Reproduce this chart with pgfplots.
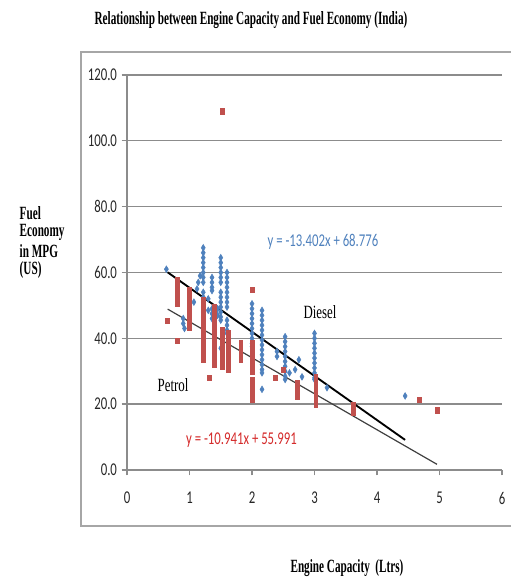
\documentclass[border=0pt]{standalone}
\usepackage{pgfplots}
\pgfplotsset{compat=1.18}
\usepackage{fontspec}
\setmainfont{Liberation Serif}
\newfontfamily\calib[FakeStretch=0.71]{Carlito}
\newfontfamily\narrow[FakeStretch=0.6]{Liberation Serif}
\newfontfamily\narrowreg[FakeStretch=0.69]{Liberation Serif}
\definecolor{dieselblue}{HTML}{4F81BD}
\definecolor{petrolred}{HTML}{C0504D}
\definecolor{eqred}{HTML}{D42A2A}
\definecolor{gridgray}{HTML}{8C8C8C}
\definecolor{framegray}{HTML}{A6A6A6}

\begin{document}
\begin{tikzpicture}
\useasboundingbox (0pt,0pt) rectangle (382.5pt,432.75pt);

\begin{axis}[
    at={(95.25pt,80.25pt)}, anchor=south west,
    scale only axis,
    width=281.25pt, height=296.25pt,
    xmin=0, xmax=6, ymin=0, ymax=120,
    axis x line=bottom, axis y line=left,
    axis line style={-, draw=gridgray, line width=1pt},
    xtick={0,1,2,3,4,5,6},
    ytick={0,20,40,60,80,100,120},
    yticklabel={\pgfmathprintnumber[fixed,fixed zerofill,precision=1]{\tick}},
    xticklabel style={yshift=-9pt},
    tick label style={font=\calib\fontsize{13.5}{15}\selectfont, text=black!85},
    /pgf/number format/assume math mode=true,
    tick align=outside, major tick length=4pt,
    tick style={draw=gridgray, line width=1pt},
    ymajorgrids,
    grid style={draw=gridgray, line width=1pt},
]
% Diesel
\addplot[only marks, mark=diamond*, mark size=2pt, color=dieselblue, mark options={yscale=1.25}] coordinates {
(0.63,61.0)
(0.90,46.0) (0.90,44.5) (0.92,43.0)
(1.07,51.0)
(1.12,55.0) (1.14,57.0) (1.17,59.0)
(1.22,67.5) (1.22,66.0) (1.22,64.5) (1.22,63.0) (1.22,61.5) (1.22,60.0) (1.22,58.5) (1.22,57.0)
(1.22,54.0) (1.22,52.5) (1.22,51.0) (1.22,49.5) (1.22,48.0) (1.22,46.5)
(1.30,52.0) (1.30,48.5)
(1.36,58.5) (1.36,57.0) (1.36,55.5) (1.36,54.5) (1.36,49.0) (1.36,47.5) (1.36,46.0)
(1.45,47.0) (1.45,49.0)
(1.50,64.5) (1.50,63.0) (1.50,61.5) (1.50,60.0) (1.50,58.5) (1.50,57.0)
(1.50,54.0) (1.50,52.5) (1.50,51.0) (1.50,49.5) (1.50,48.0) (1.50,46.5) (1.50,45.5) (1.50,37.0)
(1.60,60.0) (1.60,58.5) (1.60,57.0) (1.60,55.5) (1.60,54.0) (1.60,52.5) (1.60,51.0) (1.60,49.5)
(1.60,45.5) (1.60,44.0) (1.60,42.5) (1.60,41.5)
(2.00,50.5) (2.00,49.0) (2.00,47.5) (2.00,46.0) (2.00,44.5) (2.00,43.0) (2.00,41.5) (2.00,40.0) (2.00,38.5) (2.00,37.5)
(2.16,48.5) (2.16,47.0) (2.16,45.5) (2.16,44.0) (2.16,42.5) (2.16,41.0) (2.16,39.5) (2.16,38.0)
(2.16,36.5) (2.16,35.0) (2.16,33.5) (2.16,32.0) (2.16,30.5) (2.16,29.5) (2.16,24.5)
(2.40,36.0) (2.40,34.5)
(2.53,40.5) (2.53,39.0) (2.53,37.5) (2.53,36.0) (2.53,34.5) (2.53,33.0) (2.53,31.5) (2.53,30.0) (2.53,28.5) (2.53,27.5)
(2.60,29.5) (2.69,30.5) (2.75,33.5) (2.80,28.3)
(3.00,41.5) (3.00,40.0) (3.00,38.5) (3.00,37.0) (3.00,35.5) (3.00,34.0) (3.00,32.5) (3.00,31.0) (3.00,29.5) (3.00,28.0) (3.00,27.5)
(3.20,25.0)
(4.45,22.5)
};
% Petrol
\addplot[only marks, mark=square*, mark size=1.45pt, color=petrolred, mark options={yscale=1.4}] coordinates {
(0.64,45.3)
(0.80,57.8) (0.80,56.5) (0.80,55.0) (0.80,53.5) (0.80,52.0) (0.80,50.7) (0.80,39.2)
(1.00,54.7) (1.00,53.3) (1.00,52.0) (1.00,50.5) (1.00,49.0) (1.00,47.5) (1.00,46.0) (1.00,44.5) (1.00,43.2)
(1.22,51.7) (1.22,50.3) (1.22,49.0) (1.22,47.5) (1.22,46.0) (1.22,44.5) (1.22,43.0) (1.22,41.5)
(1.22,40.0) (1.22,38.5) (1.22,37.0) (1.22,35.5) (1.22,34.0) (1.22,33.4)
(1.32,28.0)
(1.39,49.6) (1.39,48.0) (1.39,46.5) (1.39,45.0) (1.39,43.5) (1.39,42.0) (1.39,40.5) (1.39,39.0)
(1.39,37.5) (1.39,36.0) (1.39,34.5) (1.39,33.0) (1.39,32.0)
(1.52,42.6) (1.52,41.0) (1.52,39.5) (1.52,38.0) (1.52,36.5) (1.52,35.0) (1.52,33.5) (1.52,32.0) (1.52,31.3)
(1.52,109.0)
(1.62,41.6) (1.62,40.0) (1.62,38.5) (1.62,37.0) (1.62,35.5) (1.62,34.0) (1.62,32.5) (1.62,31.0) (1.62,30.4)
(1.82,38.6) (1.82,37.0) (1.82,35.5) (1.82,34.0) (1.82,33.4)
(2.00,54.7) (2.00,38.6) (2.00,37.0) (2.00,35.5) (2.00,34.0) (2.00,32.5) (2.00,31.0) (2.00,30.0)
(2.00,27.4) (2.00,26.0) (2.00,24.5) (2.00,23.0) (2.00,21.5)
(2.37,28.0) (2.50,30.4)
(2.72,26.4) (2.72,25.0) (2.72,23.5) (2.72,22.3)
(3.02,28.3) (3.02,27.0) (3.02,25.5) (3.02,24.0) (3.02,22.5) (3.02,21.0) (3.02,19.8)
(3.62,19.8) (3.62,18.6) (3.62,17.6)
(4.67,21.3)
(4.96,18.2)
};
% linear trend lines
\addplot[black, line width=1.4pt] coordinates {(0.65,60.06) (4.45,9.14)};
\addplot[black!75, line width=0.9pt] coordinates {(0.65,48.88) (4.96,1.72)};
\end{axis}

\begin{scope}[x=0.75pt,y=0.75pt]
% chart frame, its right side runs off the page
\draw[framegray, line width=1.2pt] (520,525) -- (81,525) -- (81,51) -- (520,51);
\node[font=\narrow\bfseries\fontsize{14}{16}\selectfont] at (251,557) {Relationship between Engine Capacity and Fuel Economy (India)};
\node[anchor=west, font=\narrow\bfseries\fontsize{14}{16}\selectfont] at (15,364) {Fuel};
\node[anchor=west, font=\narrow\bfseries\fontsize{14}{16}\selectfont] at (15,345) {Economy};
\node[anchor=west, font=\narrow\bfseries\fontsize{14}{16}\selectfont] at (15,326) {in MPG};
\node[anchor=west, font=\narrow\bfseries\fontsize{14}{16}\selectfont] at (15,307) {(US)};
\node[font=\narrow\bfseries\fontsize{14}{16}\selectfont] at (347,9) {Engine Capacity\ \ (Ltrs)};
\node[font=\narrowreg\fontsize{14}{16}\selectfont] at (173,192) {Petrol};
\node[font=\narrowreg\fontsize{14}{16}\selectfont] at (320,265) {Diesel};
\node[font=\calib\fontsize{13.5}{15}\selectfont, text=dieselblue] at (323,335) {y = -13.402x + 68.776};
\node[font=\calib\fontsize{13.5}{15}\selectfont, text=eqred] at (241.5,137) {y = -10.941x + 55.991};
\end{scope}
\end{tikzpicture}
\end{document}
